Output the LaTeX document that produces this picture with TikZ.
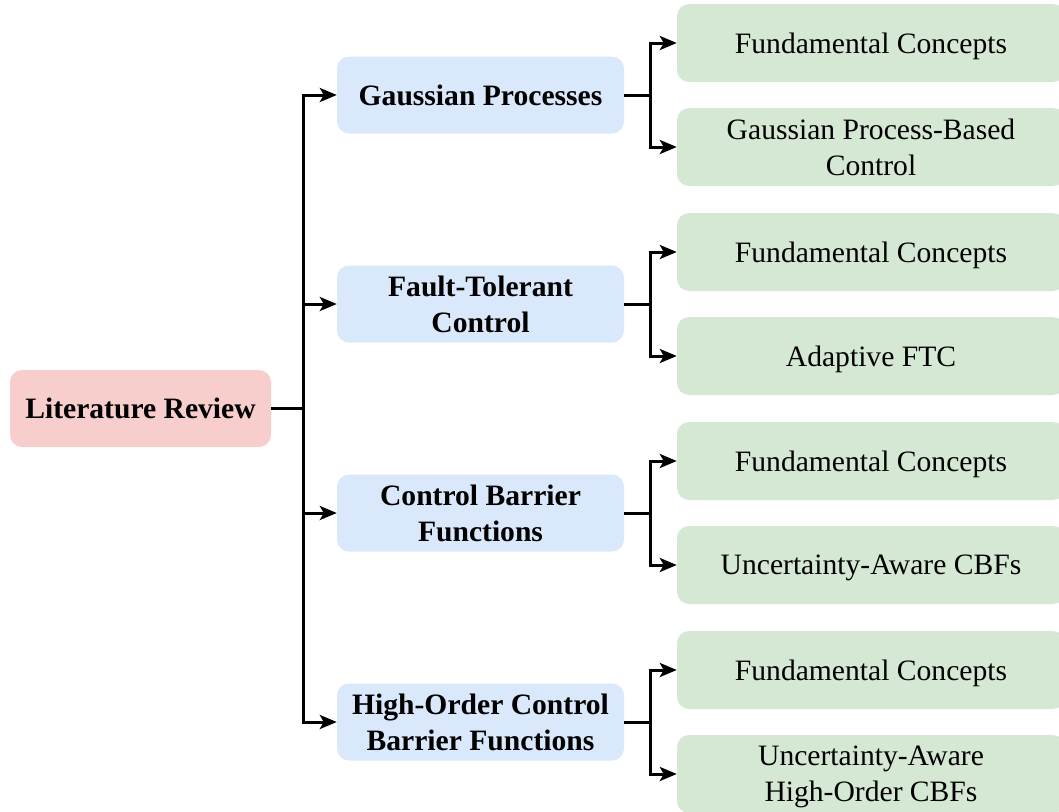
\documentclass[tikz,border=0pt]{standalone}
\usepackage{fontspec}
\setmainfont{Liberation Serif}
\usetikzlibrary{arrows.meta}
\definecolor{rootfill}{HTML}{F8CECC}
\definecolor{topicfill}{HTML}{DAE8FC}
\definecolor{leaffill}{HTML}{D5E8D4}
\begin{document}
\begin{tikzpicture}[x=1pt,y=-1pt,
  box/.style={rounded corners=12pt, inner sep=0pt, align=center, text depth=0pt,
    font=\fontsize{29.6}{36}\selectfont},
  rootbox/.style={box, fill=rootfill, minimum width=261pt, minimum height=77pt,
    font=\fontsize{29.6}{36}\selectfont\bfseries},
  topicbox/.style={box, fill=topicfill, minimum width=287pt, minimum height=77pt,
    font=\fontsize{29.6}{36}\selectfont\bfseries},
  leafbox/.style={box, fill=leaffill, minimum width=388pt, minimum height=78pt},
  link/.style={line width=3pt, black},
  arrowlink/.style={link, -{Stealth[length=17pt,width=14pt,inset=4pt]}},
]
\useasboundingbox (0,0) rectangle (1059,811);
\clip (0,0) rectangle (1059,811);

% root
\node[rootbox] (root) at (140.5,408.5) {Literature Review};

% topics
\node[topicbox] (gp)  at (480.5,95)  {Gaussian Processes};
\node[topicbox] (ftc) at (480.5,304) {Fault-Tolerant\\Control};
\node[topicbox] (cbf) at (480.5,513) {Control Barrier\\Functions};
\node[topicbox] (hocbf) at (480.5,722) {High-Order Control\\Barrier Functions};

% leaves
\node[leafbox] (gp1)  at (871,43)  {Fundamental Concepts};
\node[leafbox] (gp2)  at (871,147) {Gaussian Process-Based\\Control};
\node[leafbox] (ftc1) at (871,252) {Fundamental Concepts};
\node[leafbox] (ftc2) at (871,356) {Adaptive FTC};
\node[leafbox] (cbf1) at (871,461) {Fundamental Concepts};
\node[leafbox] (cbf2) at (871,565) {Uncertainty-Aware CBFs};
\node[leafbox] (ho1)  at (871,670) {Fundamental Concepts};
\node[leafbox] (ho2)  at (871,774) {Uncertainty-Aware\\High-Order CBFs};

% junction points of the tree
\coordinate (j0) at (303,408.5);
\coordinate (j1) at (650,95);
\coordinate (j2) at (650,304);
\coordinate (j3) at (650,513);
\coordinate (j4) at (650,722);

% root to topics
\draw[link] (root.east) -- (j0);
\draw[arrowlink] (j0) |- (gp.west);
\draw[arrowlink] (j0) |- (ftc.west);
\draw[arrowlink] (j0) |- (cbf.west);
\draw[arrowlink] (j0) |- (hocbf.west);

% topics to leaves
\draw[link] (gp.east) -- (j1);
\draw[arrowlink] (j1) |- (gp1.west);
\draw[arrowlink] (j1) |- (gp2.west);
\draw[link] (ftc.east) -- (j2);
\draw[arrowlink] (j2) |- (ftc1.west);
\draw[arrowlink] (j2) |- (ftc2.west);
\draw[link] (cbf.east) -- (j3);
\draw[arrowlink] (j3) |- (cbf1.west);
\draw[arrowlink] (j3) |- (cbf2.west);
\draw[link] (hocbf.east) -- (j4);
\draw[arrowlink] (j4) |- (ho1.west);
\draw[arrowlink] (j4) |- (ho2.west);
\end{tikzpicture}
\end{document}
